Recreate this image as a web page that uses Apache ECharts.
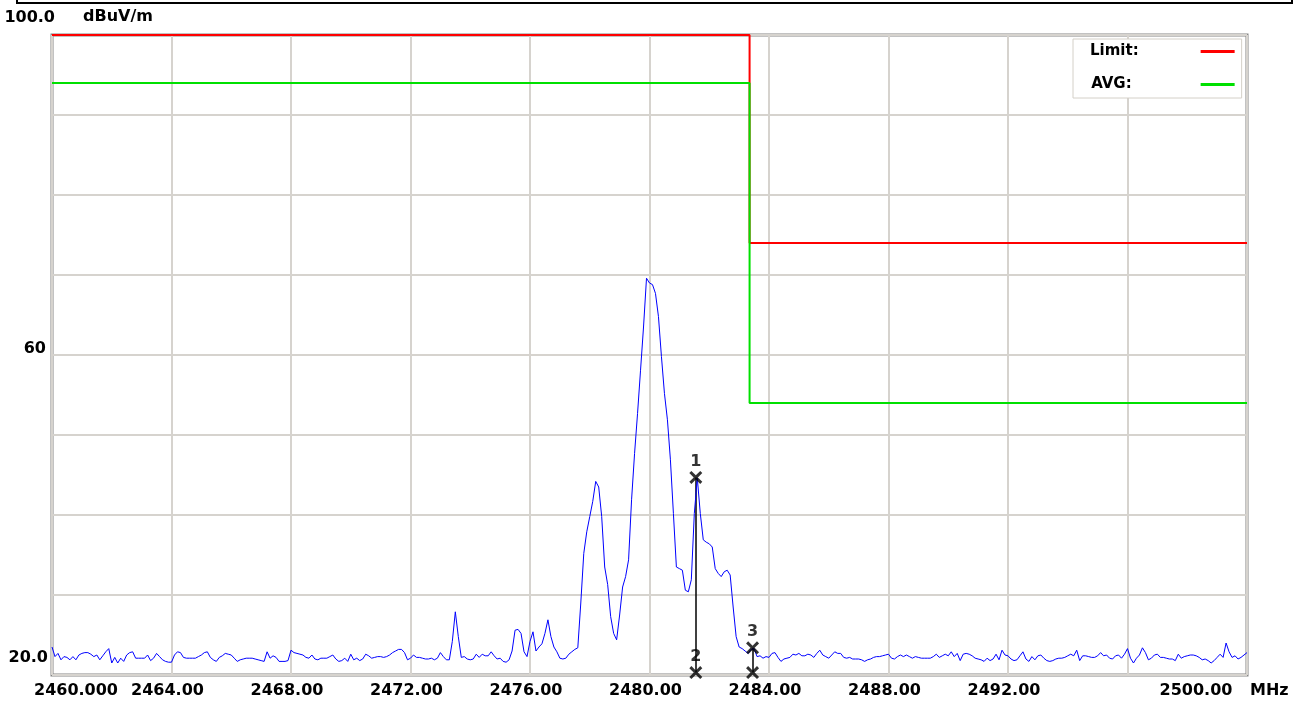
<!DOCTYPE html>
<html>
<head>
<meta charset="utf-8">
<script src="https://cdn.jsdelivr.net/npm/echarts@6/dist/echarts.min.js"></script>
<style>
  html, body { margin: 0; padding: 0; background: #fff; }
  #chart { width: 1304px; height: 704px; }
</style>
</head>
<body>
<div id="chart"></div>
<script>
// sweep: 2460.0 .. 2500.0 MHz, 0.1 MHz step, level in dBuV/m
var startMHz = 2460;
var stepMHz = 0.1;

// 2460.0 - 2469.9
var levelLow = [
  23.5, 22.3, 22.7, 21.9, 22.3, 22.2, 21.9, 22.3, 21.9, 22.5,
  22.7, 22.8, 22.8, 22.6, 22.3, 22.5, 21.9, 22.4, 22.9, 23.3,
  21.5, 22.2, 21.5, 22.1, 21.7, 22.5, 22.8, 22.9, 22.1, 22.1,
  22.1, 22.1, 22.5, 21.8, 22.1, 22.7, 22.3, 21.9, 21.7, 21.6,
  21.6, 22.5, 22.9, 22.8, 22.2, 22.1, 22.1, 22.1, 22.1, 22.3,
  22.5, 22.8, 22.9, 22.2, 21.9, 21.7, 22.2, 22.4, 22.7, 22.6,
  22.5, 22.1, 21.7, 21.9, 22.0, 22.1, 22.1, 22.1, 22.0, 21.9,
  21.8, 21.7, 22.9, 22.1, 22.4, 22.2, 21.7, 21.7, 21.7, 21.8,
  23.1, 22.8, 22.7, 22.6, 22.5, 22.2, 22.1, 22.5, 22.0, 21.9,
  22.1, 22.1, 22.1, 22.3, 22.5, 22.0, 21.7, 21.8, 22.1, 21.7
];

// 2470.0 - 2484.9
var levelBand = [
  22.6, 21.9, 22.1, 21.8, 22.0, 22.6, 22.4, 22.1, 22.2, 22.3,
  22.3, 22.2, 22.3, 22.5, 22.8, 23.0, 23.2, 23.2, 22.8, 21.9,
  22.1, 22.5, 22.2, 22.2, 22.1, 22.0, 22.0, 22.1, 21.9, 22.1,
  22.8, 22.3, 21.9, 21.9, 24.2, 27.9, 24.8, 22.2, 22.3, 22.0,
  21.9, 22.0, 22.6, 22.2, 22.6, 22.4, 22.4, 22.9, 22.4, 22.0,
  22.1, 21.7, 21.6, 21.9, 23.0, 25.6, 25.7, 25.2, 22.9, 22.3,
  24.2, 25.4, 23.0, 23.5, 23.9, 25.2, 26.9, 24.8, 23.5, 22.9,
  22.1, 22.0, 22.1, 22.6, 22.9, 23.2, 23.4, 29.0, 35.2, 37.9,
  39.8, 41.7, 44.2, 43.5, 39.8, 33.5, 31.3, 27.3, 25.2, 24.4,
  27.5, 31.0, 32.3, 34.4, 41.9, 47.7, 52.7, 58.1, 63.5, 69.6,
  69.0, 68.8, 67.7, 64.8, 59.8, 55.2, 51.9, 46.9, 40.2, 33.5,
  33.3, 33.1, 30.6, 30.4, 31.9, 40.2, 44.6, 40.2, 36.9, 36.6,
  36.4, 36.0, 33.3, 32.7, 32.3, 32.9, 33.1, 32.5, 28.5, 24.8,
  23.5, 23.3, 23.0, 22.7, 23.2, 23.3, 22.3, 22.4, 22.1, 22.3,
  22.2, 22.7, 22.8, 22.2, 21.7, 22.0, 22.1, 22.2, 22.6, 22.5
];

// 2485.0 - 2500.0
var levelHigh = [
  22.7, 22.4, 22.4, 22.6, 22.5, 22.2, 22.7, 23.1, 22.5, 22.3,
  22.1, 22.5, 22.9, 22.7, 22.7, 22.2, 22.1, 22.2, 22.0, 22.0,
  22.0, 21.9, 21.7, 21.9, 22.0, 22.2, 22.3, 22.3, 22.4, 22.5,
  22.6, 22.1, 22.0, 22.3, 22.5, 22.3, 22.5, 22.3, 22.1, 22.3,
  22.2, 22.1, 22.1, 22.1, 22.1, 22.3, 22.6, 22.2, 22.4, 22.6,
  22.4, 22.9, 22.3, 22.7, 21.8, 22.6, 22.7, 22.6, 22.4, 22.1,
  22.0, 21.9, 21.7, 22.1, 21.8, 22.0, 22.6, 21.9, 23.1, 22.5,
  22.4, 22.0, 21.8, 21.9, 22.4, 22.9, 22.0, 21.7, 22.3, 21.9,
  22.4, 22.5, 22.1, 21.8, 21.7, 21.8, 22.0, 22.1, 22.1, 22.2,
  22.4, 22.6, 22.4, 23.1, 21.8, 22.4, 22.4, 22.3, 22.2, 22.2,
  22.4, 22.8, 22.4, 22.5, 22.1, 22.0, 22.4, 22.5, 22.1, 22.6,
  23.3, 22.1, 21.5, 22.1, 22.5, 23.4, 22.8, 21.9, 22.1, 22.5,
  22.6, 22.2, 22.2, 22.1, 22.0, 22.0, 21.8, 22.6, 22.1, 22.3,
  22.4, 22.5, 22.5, 22.4, 22.2, 21.9, 22.0, 21.8, 21.5, 21.8,
  22.2, 22.6, 22.2, 24.0, 22.9, 22.2, 22.4, 22.0, 22.2, 22.5,
  22.8
];

// limit lines (step at band edge)
var limitFreq = [2460, 2483.35, 2483.35, 2500];
var limitPeak = [100, 100, 74, 74];
var limitAvg = [94, 94, 54, 54];

// markers
var markerFreq = [2481.55, 2481.55, 2483.45, 2483.45];
var markerLevel = [44.7, 20.3, 23.4, 20.3];
var markerText = ['1', '2', '3', ''];

var font = "'DejaVu Sans', sans-serif";

function pairs(xs, ys) {
  var out = [];
  for (var i = 0; i < xs.length; i++) out.push([xs[i], ys[i]]);
  return out;
}

var levels = levelLow.concat(levelBand, levelHigh);
var traceData = [];
for (var i = 0; i < levels.length; i++) {
  traceData.push([Math.round((startMHz + i * stepMHz) * 10) / 10, levels[i]]);
}

var markerData = [];
for (var j = 0; j < markerFreq.length; j++) {
  markerData.push({ value: [markerFreq[j], markerLevel[j]], label: { formatter: markerText[j] } });
}

var xSymbol = 'path://M0,1.6 L1.6,0 L5,3.4 L8.4,0 L10,1.6 L6.6,5 L10,8.4 L8.4,10 L5,6.6 L1.6,10 L0,8.4 L3.4,5 Z';

function bold(extra) {
  var s = { fontFamily: font, fontWeight: 'bold', fontSize: 16, color: '#000' };
  for (var k in extra) s[k] = extra[k];
  return s;
}

var chart = echarts.init(document.getElementById('chart'));

chart.setOption({
  animation: false,
  backgroundColor: '#fff',
  graphic: [{
    type: 'rect',
    shape: { x: 17, y: -10, width: 1275, height: 13 },
    style: { fill: 'none', stroke: '#000', lineWidth: 2 },
    z: 10
  }],
  grid: {
    left: 52, right: 57, top: 35, bottom: 29,
    show: true, borderColor: '#858585', borderWidth: 3,
    containLabel: false, outerBoundsMode: 'none'
  },
  legend: {
    data: ['Limit:', 'AVG:'],
    left: 1073, top: 39,
    orient: 'vertical', align: 'right',
    icon: 'rect', itemWidth: 34, itemHeight: 3, itemGap: 18,
    padding: [5, 7, 6, 17],
    backgroundColor: '#fff', borderColor: '#d4d0c8', borderWidth: 1,
    selectedMode: false,
    formatter: function (name) { return name === 'Limit:' ? '{l|Limit:}' : '{a|AVG:}'; },
    textStyle: {
      rich: {
        l: bold({ fontSize: 15, padding: [0, 57, 0, 0] }),
        a: bold({ fontSize: 15, padding: [0, 64, 0, 0] })
      }
    }
  },
  xAxis: {
    type: 'value', min: 2460, max: 2500, interval: 4,
    name: 'MHz', nameLocation: 'end', nameGap: 3, nameMoveOverlap: false,
    nameTextStyle: bold({ verticalAlign: 'top', padding: [8, 0, 0, 0] }),
    axisLine: { show: false }, axisTick: { show: false },
    splitLine: { show: true, lineStyle: { color: '#d6d3ce', width: 2 } },
    axisLabel: {
      margin: 8, showMinLabel: true, showMaxLabel: true, hideOverlap: false,
      fontFamily: font, fontWeight: 'bold', fontSize: 16, color: '#000',
      formatter: function (v) {
        if (v === 2460) return '{first|2460.000}';
        if (v === 2500) return '{last|2500.00}';
        if (v === 2496) return '';
        return '{mid|' + v.toFixed(2) + '}';
      },
      rich: {
        first: bold({ padding: [0, 0, 0, 48] }),
        mid: bold({ padding: [0, 8, 0, 0] }),
        last: bold({ padding: [0, 102, 0, 0] })
      }
    }
  },
  yAxis: {
    type: 'value', min: 20, max: 100, interval: 10,
    name: 'dBuV/m', nameLocation: 'end', nameGap: 18, nameMoveOverlap: false,
    nameTextStyle: bold({ align: 'left', verticalAlign: 'middle', padding: [0, 0, 0, 31] }),
    axisLine: { show: false }, axisTick: { show: false },
    splitLine: { show: true, lineStyle: { color: '#d6d3ce', width: 2 } },
    axisLabel: {
      margin: -3, showMinLabel: true, showMaxLabel: true, hideOverlap: false,
      fontFamily: font, fontWeight: 'bold', fontSize: 16, color: '#000',
      formatter: function (v) {
        if (v === 100) return '{top|100.0}';
        if (v === 60) return '{mid|60}';
        if (v === 20) return '{bot|20.0}';
        return '';
      },
      rich: {
        top: bold({ padding: [0, 0, 34, 0] }),
        mid: bold({ padding: [0, 9, 12, 0] }),
        bot: bold({ padding: [0, 7, 34, 0] })
      }
    }
  },
  series: [
    {
      name: 'Limit:', type: 'line', data: pairs(limitFreq, limitPeak),
      symbol: 'none', color: '#ff0000', lineStyle: { color: '#ff0000', width: 2 }, z: 3
    },
    {
      name: 'AVG:', type: 'line', data: pairs(limitFreq, limitAvg),
      symbol: 'none', color: '#00e000', lineStyle: { color: '#00e000', width: 2 }, z: 4
    },
    {
      name: 'trace', type: 'line', data: traceData,
      symbol: 'none', lineStyle: { color: '#0000ff', width: 1 }, z: 5
    },
    {
      name: 'markers', type: 'scatter', data: markerData,
      symbol: xSymbol, symbolSize: 13, clip: false,
      itemStyle: { color: '#000' },
      label: bold({ show: true, position: 'top', distance: 1 }),
      markLine: {
        silent: true, symbol: 'none', label: { show: false },
        lineStyle: { color: '#000', width: 1.5, type: 'solid' },
        data: [
          [{ coord: [markerFreq[0], markerLevel[0]] }, { coord: [markerFreq[1], markerLevel[1]] }],
          [{ coord: [markerFreq[2], markerLevel[2]] }, { coord: [markerFreq[3], markerLevel[3]] }]
        ]
      },
      z: 6
    }
  ]
});
</script>
</body>
</html>
